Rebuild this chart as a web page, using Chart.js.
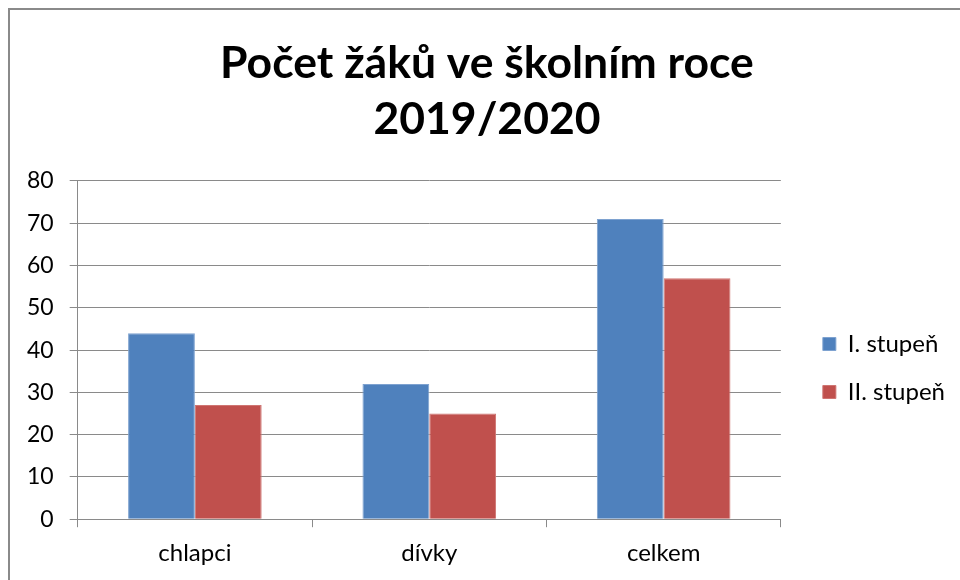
<!DOCTYPE html>
<html>
<head>
<meta charset="utf-8">
<script src="https://cdn.jsdelivr.net/npm/chart.js@4.4.1/dist/chart.umd.min.js"></script>
<style>
html,body{margin:0;padding:0;background:#fff;}
#wrap{position:relative;width:960px;height:580px;}
</style>
</head>
<body>
<div id="wrap"><canvas id="c" width="960" height="580"></canvas></div>
<script>
const categories = ['chlapci', 'dívky', 'celkem'];
const series1Name = 'I. stupeň';
const series1 = [44, 32, 71];
const series2Name = 'II. stupeň';
const series2 = [27, 25, 57];
const titleLines = ['Počet žáků ve školním roce', '2019/2020'];

const FONT = 'Lato, "Open Sans", sans-serif';

const framePlugin = {
  id: 'frame',
  beforeDraw(chart) {
    const ctx = chart.ctx;
    ctx.save();
    ctx.fillStyle = '#fff';
    ctx.fillRect(0, 0, chart.width, chart.height);
    ctx.strokeStyle = '#8a8a8a';
    ctx.lineWidth = 2;
    ctx.strokeRect(9, 9, chart.width + 20, chart.height + 20);
    ctx.restore();
  }
};

// nudge the legend and title blocks to sit where the reference places them
const blockOffset = {
  id: 'blockOffset',
  afterLayout(chart, args, opts) {
    const lg = chart.legend;
    if (lg) {
      lg.left += opts.legendDx; lg.right += opts.legendDx;
      lg.top += opts.legendDy; lg.bottom += opts.legendDy;
    }
    const tb = chart.titleBlock;
    if (tb) {
      tb.left += opts.titleDx; tb.right += opts.titleDx;
    }
  }
};

new Chart(document.getElementById('c'), {
  type: 'bar',
  data: {
    labels: categories,
    datasets: [
      { label: series1Name, data: series1, backgroundColor: '#4F81BD', borderColor: '#7ea2d0', borderWidth: 1 },
      { label: series2Name, data: series2, backgroundColor: '#C0504D', borderColor: '#cf7572', borderWidth: 1 }
    ]
  },
  options: {
    responsive: false,
    animation: false,
    devicePixelRatio: 1,
    layout: { padding: { left: 11, right: 23, top: 10, bottom: 0 } },
    datasets: { bar: { categoryPercentage: 0.57, barPercentage: 1.0 } },
    plugins: {
      title: {
        display: true,
        text: titleLines,
        color: '#000',
        font: { family: FONT, size: 44.5, weight: 'bold', lineHeight: 1.258 },
        padding: { top: 26, bottom: 33 }
      },
      legend: {
        position: 'right',
        align: 'center',
        labels: {
          color: '#000',
          font: { family: FONT, size: 24 },
          boxWidth: 13,
          boxHeight: 13,
          padding: 24
        }
      },
      blockOffset: { legendDx: 18, legendDy: 73, titleDx: 13 },
      tooltip: { enabled: false }
    },
    scales: {
      x: {
        grid: { display: true, drawOnChartArea: false, drawTicks: true, tickLength: 8, color: '#8a8a8a', offset: true },
        border: { display: true, color: '#8a8a8a' },
        ticks: { color: '#000', font: { family: FONT, size: 24 }, padding: 12 }
      },
      y: {
        min: 0, max: 80,
        grid: { color: '#8a8a8a', tickLength: 8, drawTicks: true },
        border: { display: true, color: '#8a8a8a' },
        ticks: { stepSize: 10, color: '#000', font: { family: FONT, size: 23 }, padding: 16 }
      }
    }
  },
  plugins: [framePlugin, blockOffset]
});
</script>
</body>
</html>
